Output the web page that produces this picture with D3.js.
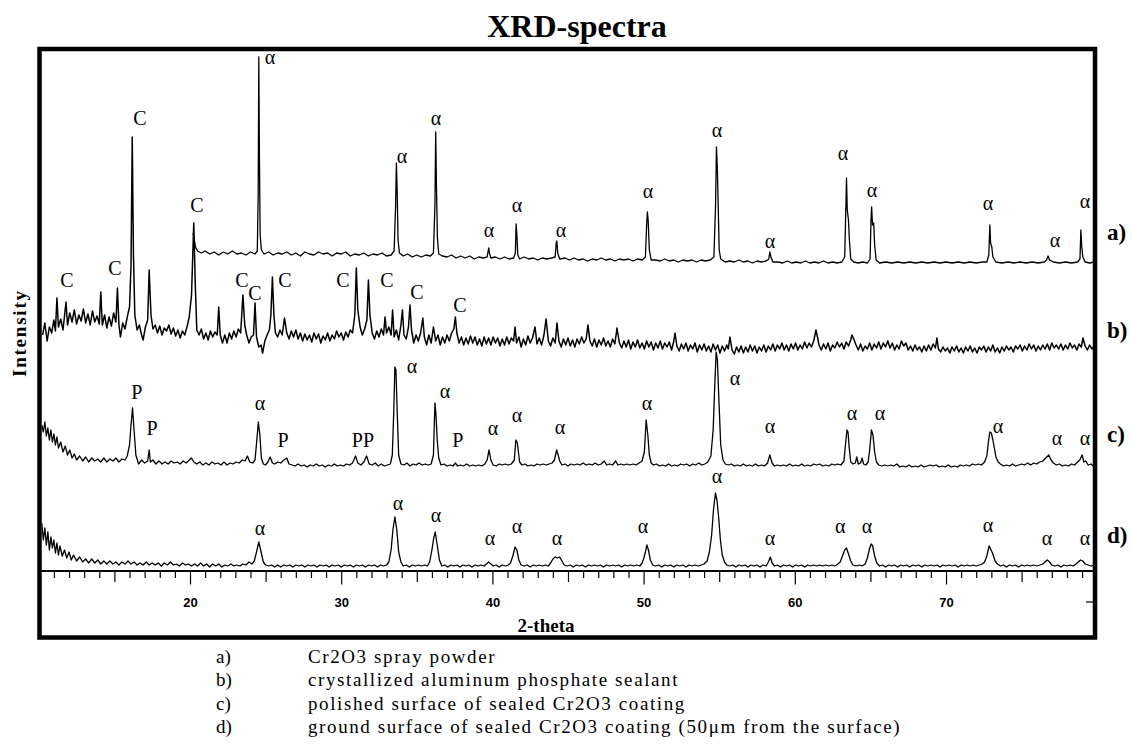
<!DOCTYPE html>
<html>
<head>
<meta charset="utf-8">
<script src="https://cdn.jsdelivr.net/npm/d3@7"></script>
<style>
  body { margin: 0; background: #fff; }
  svg { display: block; }
  .serif { font-family: "Liberation Serif", "Times New Roman", serif; fill: #000; }
  .peak-label { font-size: 20px; }
  .tick text { font-family: "Liberation Sans", Arial, sans-serif; font-weight: bold; font-size: 13px; fill: #000; }
  .axis path, .axis line { stroke: #000; }
</style>
</head>
<body>
<div id="chart-area"></div>
<script>
// ---- data: [2-theta, intensity], each trace on its own baseline ----
const traceA = [
  [20.2,32],[20.28,26],[20.36,18],[20.5,14],[20.75,12],[21.0,14],[21.3,11],[21.6,13],[21.9,10],[22.2,13],[22.5,11],[22.8,14],
  [23.1,11],[23.4,12],[23.7,10],[24.0,13],[24.3,11],[24.45,14],[24.51,70],[24.55,208],[24.59,110],[24.64,30],[24.72,15],[24.9,11],
  [25.2,13],[25.5,10],[25.8,12],[26.1,11],[26.4,13],[26.7,10],[27.0,12],[27.3,9],[27.6,13],[27.9,11],[28.2,10],[28.5,13],[28.8,11],
  [29.1,12],[29.4,9],[29.7,12],[30.0,11],[30.3,13],[30.6,9],[30.9,11],[31.2,10],[31.5,12],[31.8,9],[32.1,11],[32.4,10],[32.7,12],
  [33.0,9],[33.3,10],[33.5,14],[33.6,60],[33.65,102],[33.7,75],[33.76,25],[33.85,12],[34.1,9],[34.4,11],[34.7,8],[35.0,10],[35.3,8],
  [35.6,10],[35.9,9],[36.1,12],[36.2,60],[36.25,133],[36.3,80],[36.36,28],[36.45,11],[36.7,9],[37.0,8],[37.3,10],[37.6,7],[37.9,9],
  [38.2,7],[38.5,9],[38.8,6],[39.1,8],[39.4,7],[39.65,8],[39.72,14],[39.76,17],[39.8,12],[39.9,7],[40.2,8],[40.5,6],[40.8,8],
  [41.1,6],[41.4,7],[41.52,12],[41.57,41],[41.62,30],[41.68,10],[41.8,6],[42.1,8],[42.4,6],[42.7,7],[43.0,5],[43.3,7],[43.6,6],
  [43.9,7],[44.15,8],[44.22,22],[44.26,24],[44.32,12],[44.45,6],[44.8,7],[45.1,5],[45.4,7],[45.7,5],[46.0,6],[46.3,4],[46.6,6],
  [46.9,5],[47.2,7],[47.5,5],[47.8,6],[48.1,4],[48.4,6],[48.7,5],[49.0,6],[49.3,4],[49.6,6],[49.9,5],[50.12,8],[50.2,40],[50.25,53],
  [50.3,45],[50.38,15],[50.5,5],[50.8,5],[51.1,4],[51.4,6],[51.7,4],[52.0,5],[52.3,3],[52.6,5],[52.9,4],[53.2,5],[53.5,3],[53.8,5],
  [54.1,4],[54.4,5],[54.65,8],[54.76,60],[54.82,118],[54.88,95],[54.94,55],[55.0,15],[55.1,6],[55.4,3],[55.7,4],[56.0,3],[56.3,5],
  [56.6,3],[56.9,4],[57.2,2],[57.5,4],[57.8,3],[58.1,4],[58.28,6],[58.35,13],[58.42,8],[58.55,3],[58.9,3],[59.2,2],[59.5,4],[59.8,2],
  [60.1,3],[60.4,2],[60.7,4],[61.0,2],[61.3,3],[61.6,2],[61.9,4],[62.2,2],[62.5,3],[62.8,2],[63.1,3],[63.3,8],[63.38,60],[63.42,87],
  [63.47,55],[63.55,45],[63.61,25],[63.7,6],[63.9,3],[64.2,2],[64.5,3],[64.8,2],[64.98,6],[65.04,45],[65.08,58],[65.14,40],[65.22,42],
  [65.28,20],[65.38,5],[65.6,2],[66.0,3],[66.4,2],[66.8,3],[67.2,2],[67.6,3],[68.0,2],[68.4,3],[68.8,2],[69.2,3],[69.6,2],[70.0,3],
  [70.4,2],[70.8,3],[71.2,2],[71.6,3],[72.0,2],[72.4,3],[72.7,3],[72.83,10],[72.9,40],[72.95,22],[73.03,18],[73.1,8],[73.3,3],
  [73.7,2],[74.1,3],[74.5,2],[74.9,3],[75.3,2],[75.7,3],[76.1,2],[76.5,3],[76.65,5],[76.75,9],[76.85,5],[77.1,3],[77.5,2],[77.9,3],
  [78.3,2],[78.7,3],[78.86,6],[78.92,35],[78.98,18],[79.05,8],[79.2,3],[79.5,2],[79.8,3]
];

const traceB = [
  [10.25,20],[10.4,32],[10.55,14],[10.7,28],[10.85,22],[11.0,35],[11.1,24],[11.2,57],[11.3,28],[11.45,36],[11.6,25],[11.8,53],
  [11.9,30],[12.05,42],[12.2,33],[12.35,45],[12.5,31],[12.65,40],[12.8,34],[12.95,46],[13.1,32],[13.25,41],[13.4,30],[13.55,44],
  [13.7,33],[13.85,39],[14.0,31],[14.1,63],[14.2,30],[14.35,40],[14.5,27],[14.65,38],[14.8,29],[14.95,42],[15.1,33],[15.2,67],
  [15.3,30],[15.4,18],[15.55,32],[15.7,26],[15.85,38],[16.0,48],[16.1,90],[16.18,218],[16.26,100],[16.35,40],[16.5,25],[16.65,30],
  [16.8,20],[16.9,15],[17.05,28],[17.2,35],[17.3,85],[17.42,40],[17.55,26],[17.7,30],[17.85,22],[18.0,29],[18.15,20],[18.3,27],
  [18.45,24],[18.6,30],[18.75,21],[18.9,27],[19.05,19],[19.2,25],[19.35,17],[19.5,24],[19.65,20],[19.8,28],[19.95,38],[20.1,60],
  [20.25,132],[20.35,70],[20.45,25],[20.6,20],[20.75,26],[20.9,16],[21.05,22],[21.2,15],[21.35,24],[21.5,18],[21.65,23],[21.8,20],
  [21.9,48],[22.0,20],[22.15,12],[22.3,20],[22.45,12],[22.6,22],[22.75,16],[22.9,24],[23.05,18],[23.2,26],[23.35,22],[23.5,60],
  [23.62,30],[23.75,20],[23.9,12],[24.05,18],[24.2,20],[24.3,52],[24.4,18],[24.55,8],[24.7,10],[24.8,2],[24.95,14],[25.1,20],
  [25.25,25],[25.35,40],[25.45,78],[25.55,40],[25.65,22],[25.8,18],[25.95,25],[26.1,20],[26.25,37],[26.4,22],[26.55,16],[26.7,24],
  [26.85,18],[27.0,25],[27.15,16],[27.3,22],[27.45,14],[27.6,21],[27.75,15],[27.9,20],[28.05,13],[28.2,22],[28.35,16],[28.5,21],
  [28.65,12],[28.8,19],[28.95,15],[29.1,22],[29.25,14],[29.4,20],[29.55,16],[29.7,24],[29.85,18],[30.0,22],[30.15,15],[30.3,23],
  [30.45,18],[30.6,25],[30.75,22],[30.9,40],[31.0,87],[31.1,45],[31.25,28],[31.4,20],[31.55,26],[31.7,35],[31.8,75],[31.9,40],
  [32.05,22],[32.2,16],[32.35,24],[32.5,18],[32.65,26],[32.8,20],[32.9,38],[33.0,22],[33.15,28],[33.3,20],[33.4,45],[33.5,18],
  [33.65,25],[33.8,15],[33.95,30],[34.05,45],[34.15,20],[34.3,16],[34.45,28],[34.55,50],[34.65,25],[34.8,12],[34.95,20],[35.1,14],
  [35.25,22],[35.4,37],[35.5,18],[35.65,10],[35.8,20],[35.95,12],[36.1,28],[36.25,14],[36.4,20],[36.55,10],[36.7,18],[36.85,12],
  [37.0,20],[37.15,14],[37.3,22],[37.45,26],[37.55,38],[37.65,22],[37.8,12],[37.95,18],[38.1,10],[38.25,17],[38.4,11],[38.55,19],
  [38.7,12],[38.85,18],[39.0,10],[39.15,16],[39.3,9],[39.45,18],[39.6,11],[39.75,17],[39.9,10],[40.05,18],[40.2,12],[40.35,17],
  [40.5,9],[40.65,16],[40.8,10],[40.95,18],[41.1,11],[41.25,17],[41.4,14],[41.5,28],[41.6,12],[41.75,18],[41.9,8],[42.05,16],
  [42.2,10],[42.35,19],[42.5,12],[42.65,17],[42.82,28],[42.95,11],[43.1,17],[43.25,10],[43.4,19],[43.55,36],[43.7,14],[43.85,9],
  [44.0,17],[44.15,12],[44.27,32],[44.4,14],[44.55,8],[44.7,16],[44.85,10],[45.0,17],[45.15,9],[45.3,15],[45.45,8],[45.6,16],
  [45.75,11],[45.9,18],[46.05,12],[46.2,16],[46.32,30],[46.45,14],[46.6,9],[46.75,16],[46.9,8],[47.05,15],[47.2,10],[47.35,17],
  [47.5,9],[47.65,14],[47.8,8],[47.95,16],[48.1,11],[48.24,27],[48.4,12],[48.55,7],[48.7,14],[48.85,8],[49.0,15],[49.15,6],
  [49.3,13],[49.45,8],[49.6,15],[49.75,7],[49.9,12],[50.05,6],[50.2,14],[50.35,8],[50.5,13],[50.65,5],[50.8,12],[50.95,7],
  [51.1,14],[51.25,6],[51.4,12],[51.55,8],[51.7,13],[51.85,5],[52.0,14],[52.08,22],[52.2,9],[52.35,4],[52.5,11],[52.65,6],
  [52.8,12],[52.95,4],[53.1,10],[53.25,6],[53.4,12],[53.55,3],[53.7,10],[53.85,5],[54.0,11],[54.15,4],[54.3,9],[54.45,3],
  [54.6,11],[54.75,5],[54.9,10],[55.05,2],[55.2,9],[55.35,4],[55.5,10],[55.6,6],[55.71,18],[55.85,5],[56.0,1],[56.15,8],
  [56.3,3],[56.45,9],[56.6,2],[56.75,8],[56.9,3],[57.05,10],[57.2,4],[57.35,9],[57.5,2],[57.65,8],[57.8,4],[57.95,10],
  [58.1,3],[58.25,9],[58.4,5],[58.55,11],[58.7,4],[58.85,10],[59.0,6],[59.15,12],[59.3,5],[59.45,10],[59.6,4],[59.75,11],
  [59.9,6],[60.05,12],[60.2,5],[60.35,10],[60.5,6],[60.65,13],[60.8,7],[60.95,12],[61.1,8],[61.25,14],[61.4,25],[61.5,18],
  [61.6,10],[61.75,5],[61.9,11],[62.05,6],[62.2,12],[62.35,4],[62.5,10],[62.65,7],[62.8,13],[62.95,8],[63.1,12],[63.25,6],
  [63.4,13],[63.55,9],[63.7,15],[63.78,20],[63.9,16],[64.05,10],[64.2,5],[64.35,11],[64.5,4],[64.65,9],[64.8,6],[64.95,12],
  [65.1,5],[65.25,11],[65.4,7],[65.55,13],[65.7,6],[65.85,12],[66.0,8],[66.15,14],[66.3,7],[66.45,12],[66.6,5],[66.75,10],
  [66.9,6],[67.05,14],[67.2,9],[67.35,12],[67.5,5],[67.65,9],[67.8,4],[67.95,10],[68.1,5],[68.25,8],[68.4,3],[68.55,9],
  [68.7,4],[68.85,10],[69.0,5],[69.15,11],[69.3,7],[69.4,17],[69.5,6],[69.65,3],[69.8,8],[69.95,4],[70.1,7],[70.25,2],
  [70.4,8],[70.55,4],[70.7,9],[70.85,3],[71.0,7],[71.15,2],[71.3,8],[71.45,4],[71.6,9],[71.75,3],[71.9,7],[72.05,2],
  [72.2,8],[72.35,5],[72.5,9],[72.65,3],[72.8,8],[72.95,4],[73.1,10],[73.25,3],[73.4,7],[73.55,2],[73.7,8],[73.85,4],
  [74.0,9],[74.15,5],[74.3,8],[74.45,3],[74.6,9],[74.75,6],[74.9,10],[75.05,4],[75.2,9],[75.35,5],[75.5,11],[75.65,6],
  [75.8,10],[75.95,4],[76.1,9],[76.25,5],[76.4,10],[76.55,6],[76.7,11],[76.85,5],[77.0,12],[77.15,7],[77.3,10],[77.45,6],
  [77.6,11],[77.75,5],[77.9,10],[78.05,6],[78.2,12],[78.35,7],[78.5,10],[78.65,5],[78.8,11],[78.95,8],[79.06,17],[79.2,9],
  [79.35,5],[79.5,10],[79.65,6],[79.8,9]
];

const traceC = [
  [10.2,45],[10.3,38],[10.4,48],[10.5,34],[10.6,42],[10.7,30],[10.8,40],[10.9,28],[11.0,36],[11.1,25],[11.2,33],[11.3,22],
  [11.45,28],[11.6,18],[11.75,24],[11.9,15],[12.05,20],[12.2,12],[12.35,16],[12.5,10],[12.7,14],[12.9,9],[13.1,13],[13.3,8],
  [13.5,12],[13.7,9],[13.9,11],[14.1,8],[14.3,12],[14.5,8],[14.7,11],[14.9,9],[15.1,12],[15.3,8],[15.5,11],[15.7,10],[15.85,14],
  [16.0,25],[16.1,45],[16.2,62],[16.3,40],[16.42,15],[16.6,6],[16.8,10],[17.0,7],[17.2,9],[17.3,20],[17.38,8],[17.55,10],
  [17.75,6],[17.95,9],[18.15,6],[18.35,8],[18.55,6],[18.75,9],[18.95,7],[19.15,8],[19.35,6],[19.55,9],[19.75,7],[19.95,10],
  [20.1,12],[20.25,8],[20.45,6],[20.65,8],[20.85,5],[21.05,7],[21.25,5],[21.45,8],[21.65,6],[21.85,7],[22.05,5],[22.25,8],
  [22.45,5],[22.65,7],[22.85,6],[23.05,8],[23.25,7],[23.45,10],[23.65,9],[23.8,14],[23.95,8],[24.15,7],[24.3,10],[24.42,30],
  [24.52,48],[24.62,35],[24.72,12],[24.85,6],[25.0,5],[25.15,8],[25.3,13],[25.45,7],[25.6,6],[25.8,8],[26.0,7],[26.2,10],
  [26.4,12],[26.55,6],[26.75,5],[26.95,4],[27.15,6],[27.35,4],[27.55,5],[27.75,3],[27.95,5],[28.15,4],[28.35,6],[28.55,4],
  [28.75,5],[28.95,3],[29.15,5],[29.35,4],[29.55,6],[29.75,4],[29.95,5],[30.15,4],[30.35,6],[30.55,5],[30.75,7],[30.95,14],
  [31.1,7],[31.3,5],[31.5,8],[31.68,14],[31.85,6],[32.05,5],[32.25,7],[32.45,4],[32.65,6],[32.85,4],[33.05,5],[33.25,6],
  [33.38,15],[33.48,60],[33.55,103],[33.62,100],[33.7,60],[33.8,15],[33.95,6],[34.15,5],[34.35,7],[34.55,4],[34.75,6],[34.95,5],
  [35.15,7],[35.35,5],[35.55,6],[35.75,5],[35.95,6],[36.1,15],[36.2,67],[36.27,55],[36.35,30],[36.45,12],[36.6,5],[36.8,6],
  [37.0,4],[37.2,5],[37.4,4],[37.55,7],[37.7,4],[37.9,5],[38.1,4],[38.3,6],[38.5,4],[38.7,5],[38.9,4],[39.1,5],[39.3,4],
  [39.5,6],[39.65,10],[39.78,20],[39.9,10],[40.05,5],[40.25,4],[40.45,6],[40.65,5],[40.85,6],[41.05,5],[41.25,6],[41.45,10],
  [41.55,30],[41.65,27],[41.72,18],[41.8,8],[41.95,5],[42.15,6],[42.35,4],[42.55,5],[42.75,4],[42.95,6],[43.15,5],[43.35,6],
  [43.55,5],[43.75,6],[43.95,7],[44.1,10],[44.25,20],[44.35,15],[44.45,9],[44.6,5],[44.8,6],[45.0,4],[45.2,6],[45.4,5],
  [45.6,6],[45.8,5],[46.0,7],[46.2,5],[46.4,6],[46.6,5],[46.8,7],[47.0,5],[47.2,6],[47.4,9],[47.55,5],[47.75,6],[47.95,5],
  [48.15,9],[48.3,5],[48.5,6],[48.7,5],[48.9,6],[49.1,5],[49.3,6],[49.5,5],[49.7,7],[49.9,9],[50.05,18],[50.17,50],[50.28,35],
  [50.38,15],[50.5,7],[50.65,5],[50.85,6],[51.05,4],[51.25,5],[51.45,4],[51.65,6],[51.85,4],[52.05,5],[52.25,4],[52.45,6],
  [52.65,5],[52.85,6],[53.05,4],[53.25,6],[53.45,5],[53.65,7],[53.85,5],[54.05,6],[54.25,8],[54.45,14],[54.6,40],[54.72,90],
  [54.8,118],[54.88,110],[54.98,70],[55.1,25],[55.25,10],[55.4,6],[55.6,5],[55.8,6],[56.0,4],[56.2,5],[56.4,4],[56.6,6],
  [56.8,4],[57.0,5],[57.2,4],[57.4,6],[57.6,4],[57.8,5],[58.0,4],[58.2,7],[58.35,15],[58.5,7],[58.65,4],[58.85,5],[59.05,4],
  [59.25,5],[59.45,4],[59.65,6],[59.85,4],[60.05,5],[60.25,4],[60.45,6],[60.65,4],[60.85,5],[61.05,4],[61.25,6],[61.45,5],
  [61.65,6],[61.85,4],[62.05,5],[62.25,4],[62.45,6],[62.65,5],[62.85,6],[63.05,5],[63.25,9],[63.35,25],[63.45,40],[63.52,38],
  [63.6,22],[63.7,8],[63.85,6],[64.0,7],[64.1,13],[64.2,6],[64.35,7],[64.45,12],[64.55,6],[64.7,5],[64.85,8],[64.95,20],
  [65.07,40],[65.17,35],[65.28,18],[65.4,8],[65.55,5],[65.75,4],[65.95,5],[66.15,4],[66.35,5],[66.55,4],[66.75,6],[66.95,3],
  [67.15,4],[67.35,3],[67.55,5],[67.75,3],[67.95,4],[68.15,3],[68.35,5],[68.55,3],[68.75,4],[68.95,5],[69.15,4],[69.35,5],
  [69.55,3],[69.75,4],[69.95,3],[70.15,5],[70.35,3],[70.55,4],[70.75,3],[70.95,5],[71.15,4],[71.35,5],[71.55,4],[71.75,6],
  [71.95,5],[72.15,6],[72.35,5],[72.55,8],[72.7,14],[72.82,30],[72.9,38],[73.0,37],[73.1,30],[73.2,22],[73.3,13],[73.45,8],
  [73.6,6],[73.8,4],[74.0,5],[74.2,4],[74.4,6],[74.6,4],[74.8,5],[75.0,6],[75.2,5],[75.4,7],[75.6,5],[75.8,7],[76.0,6],
  [76.2,8],[76.4,9],[76.6,12],[76.8,15],[76.95,10],[77.1,7],[77.3,5],[77.5,6],[77.7,4],[77.9,5],[78.1,4],[78.3,6],[78.5,5],
  [78.7,8],[78.85,10],[79.0,15],[79.12,8],[79.25,9],[79.4,5],[79.6,6],[79.8,3]
];

const traceD = [
  [10.2,47],[10.3,30],[10.4,42],[10.5,25],[10.6,38],[10.7,20],[10.8,33],[10.9,22],[11.0,30],[11.1,17],[11.2,27],[11.3,15],
  [11.4,24],[11.55,14],[11.7,20],[11.85,12],[12.0,18],[12.15,10],[12.3,15],[12.5,9],[12.7,13],[12.9,8],[13.1,11],[13.3,7],
  [13.5,11],[13.7,7],[13.9,10],[14.1,6],[14.3,9],[14.5,6],[14.7,9],[14.9,6],[15.1,8],[15.3,5],[15.5,8],[15.7,6],[15.9,9],
  [16.1,6],[16.3,8],[16.5,5],[16.7,7],[16.9,5],[17.1,8],[17.3,5],[17.5,7],[17.7,5],[17.9,7],[18.1,4],[18.3,7],[18.5,5],
  [18.7,8],[18.9,5],[19.1,6],[19.3,4],[19.5,7],[19.7,5],[19.9,6],[20.1,4],[20.3,6],[20.5,4],[20.7,7],[20.9,4],[21.1,6],
  [21.3,3],[21.5,6],[21.7,4],[21.9,6],[22.1,3],[22.3,5],[22.5,4],[22.7,6],[22.9,4],[23.1,5],[23.3,4],[23.5,6],[23.7,5],
  [23.9,8],[24.1,6],[24.25,9],[24.4,18],[24.55,28],[24.7,18],[24.85,8],[25.0,5],[25.2,4],[25.4,5],[25.6,3],[25.8,5],[26.0,3],
  [26.2,5],[26.4,4],[26.6,5],[26.8,3],[27.0,5],[27.2,4],[27.4,5],[27.6,3],[27.8,5],[28.0,4],[28.2,5],[28.4,3],[28.6,5],
  [28.8,4],[29.0,5],[29.2,3],[29.4,5],[29.6,4],[29.8,5],[30.0,3],[30.2,5],[30.4,4],[30.6,5],[30.8,3],[31.0,5],[31.2,4],
  [31.4,5],[31.6,3],[31.8,5],[32.0,4],[32.2,5],[32.4,3],[32.6,5],[32.8,4],[33.0,5],[33.15,8],[33.3,20],[33.42,40],[33.55,53],
  [33.68,40],[33.8,18],[33.95,8],[34.1,4],[34.3,5],[34.5,3],[34.7,5],[34.9,4],[35.1,5],[35.3,4],[35.5,5],[35.7,4],[35.85,8],
  [36.0,20],[36.12,32],[36.22,38],[36.35,25],[36.5,10],[36.65,4],[36.85,5],[37.05,3],[37.25,5],[37.45,4],[37.65,5],[37.85,3],
  [38.05,5],[38.25,4],[38.45,5],[38.65,3],[38.85,5],[39.05,4],[39.25,5],[39.45,4],[39.6,6],[39.75,8],[39.9,6],[40.05,4],
  [40.25,5],[40.45,3],[40.65,5],[40.85,4],[41.05,5],[41.2,7],[41.35,14],[41.5,23],[41.62,20],[41.75,10],[41.9,5],[42.1,4],
  [42.3,5],[42.5,3],[42.7,5],[42.9,4],[43.1,5],[43.3,4],[43.5,5],[43.7,4],[43.85,7],[44.0,11],[44.15,13],[44.3,12],[44.45,13],
  [44.6,9],[44.75,5],[44.95,4],[45.15,5],[45.35,3],[45.55,5],[45.75,4],[45.95,5],[46.15,3],[46.35,5],[46.55,4],[46.75,5],
  [46.95,4],[47.15,5],[47.35,3],[47.55,5],[47.75,4],[47.95,5],[48.15,4],[48.35,5],[48.55,3],[48.75,5],[48.95,4],[49.15,5],
  [49.35,4],[49.55,5],[49.75,4],[49.9,7],[50.02,12],[50.12,18],[50.22,25],[50.32,20],[50.45,10],[50.6,5],[50.8,4],[51.0,5],
  [51.2,3],[51.4,5],[51.6,4],[51.8,5],[52.0,3],[52.2,5],[52.4,4],[52.6,5],[52.8,3],[53.0,5],[53.2,4],[53.4,5],[53.6,4],
  [53.8,5],[54.0,6],[54.2,9],[54.35,18],[54.5,35],[54.62,60],[54.75,77],[54.85,70],[54.95,55],[55.08,30],[55.2,15],[55.35,8],
  [55.5,5],[55.7,4],[55.9,5],[56.1,3],[56.3,5],[56.5,4],[56.7,5],[56.9,3],[57.1,5],[57.3,4],[57.5,5],[57.7,3],[57.9,5],
  [58.1,4],[58.25,8],[58.38,13],[58.5,7],[58.65,4],[58.85,5],[59.05,3],[59.25,5],[59.45,4],[59.65,5],[59.85,3],[60.05,5],
  [60.25,4],[60.45,5],[60.65,3],[60.85,5],[61.05,4],[61.25,5],[61.45,4],[61.65,5],[61.85,4],[62.05,5],[62.25,4],[62.45,5],
  [62.65,4],[62.85,6],[63.0,8],[63.15,14],[63.3,20],[63.42,22],[63.55,16],[63.7,9],[63.85,5],[64.05,4],[64.25,5],[64.45,4],
  [64.65,6],[64.8,12],[64.95,22],[65.05,26],[65.15,24],[65.28,14],[65.42,7],[65.6,4],[65.8,5],[66.0,3],[66.2,5],[66.4,4],
  [66.6,5],[66.8,3],[67.0,5],[67.2,4],[67.4,5],[67.6,3],[67.8,5],[68.0,4],[68.2,5],[68.4,3],[68.6,5],[68.8,4],[69.0,5],
  [69.2,4],[69.4,5],[69.6,3],[69.8,5],[70.0,4],[70.2,5],[70.4,4],[70.6,5],[70.8,3],[71.0,5],[71.2,4],[71.4,5],[71.6,4],
  [71.8,5],[72.0,4],[72.2,5],[72.4,6],[72.55,8],[72.7,14],[72.85,24],[72.98,20],[73.1,16],[73.25,9],[73.4,6],[73.6,4],
  [73.8,5],[74.0,3],[74.2,5],[74.4,4],[74.6,5],[74.8,3],[75.0,5],[75.2,4],[75.4,5],[75.6,4],[75.8,5],[76.0,4],[76.2,5],
  [76.4,6],[76.55,8],[76.7,10],[76.85,8],[77.0,5],[77.2,4],[77.4,5],[77.6,3],[77.8,5],[78.0,4],[78.2,5],[78.4,4],[78.6,6],
  [78.75,8],[78.9,10],[79.05,9],[79.2,6],[79.4,5],[79.6,4],[79.8,5]
];

// peak annotations: [2-theta, height above the trace baseline, text]
const labelsA = [
  [25.29,201,"α"],[34.02,102,"α"],[36.27,140,"α"],[39.78,28,"α"],[41.63,53,"α"],[44.54,28,"α"],[50.29,67,"α"],
  [54.85,128,"α"],[58.36,17,"α"],[63.19,105,"α"],[65.11,68,"α"],[72.78,55,"α"],[77.21,18,"α"],[79.19,57,"α"]
];
const labelsB = [
  [11.86,68,"C"],[15.04,80,"C"],[16.69,230,"C"],[20.46,143,"C"],[23.44,68,"C"],[24.30,55,"C"],[26.28,68,"C"],
  [30.12,68,"C"],[33.03,68,"C"],[35.01,56,"C"],[37.86,43,"C"]
];
const labelsC = [
  [16.49,71,"P"],[17.49,35,"P"],[24.63,60,"α"],[26.15,23,"P"],[31.44,23,"PP"],[34.68,97,"α"],[36.87,72,"α"],
  [37.72,23,"P"],[40.04,35,"α"],[41.63,48,"α"],[44.47,36,"α"],[50.22,60,"α"],[56.04,85,"α"],[58.36,37,"α"],
  [63.78,50,"α"],[65.63,50,"α"],[73.44,37,"α"],[77.34,25,"α"],[79.19,25,"α"]
];
const labelsD = [
  [24.63,35,"α"],[33.76,60,"α"],[36.27,48,"α"],[39.84,25,"α"],[41.63,37,"α"],[44.27,25,"α"],[49.96,37,"α"],
  [54.85,87,"α"],[58.36,25,"α"],[63.0,37,"α"],[64.77,37,"α"],[72.78,38,"α"],[76.68,25,"α"],[79.19,25,"α"]
];

const traceNames = ["a)", "b)", "c)", "d)"];
const traceNameLevels = [25, 17, 28, 27];
const legendLines = [
  "Cr2O3 spray powder",
  "crystallized aluminum phosphate sealant",
  "polished surface of sealed Cr2O3 coating",
  "ground surface of sealed Cr2O3 coating (50μm from the surface)"
];
const xTickLabels = [20, 30, 40, 50, 60, 70];

const xrd = {
  totalWidth: 1132,
  totalHeight: 746,
  frame: { left: 39.5, top: 49, right: 1095, bottom: 637.5 },
  axisY: 571,
  traceOffsets: [305, 215, 100, 0],
  svg: undefined,

  setup: function() {
    this.svg = d3.select("#chart-area")
      .append("svg")
        .attr("width", this.totalWidth)
        .attr("height", this.totalHeight);

    this.xScale = d3.scaleLinear().domain([10, 80]).range([38.8, 1097.2]);
    this.yScale = d3.scaleLinear().domain([0, 520]).range([570, 50]);

    this.svg.append("clipPath")
        .attr("id", "plot-clip")
      .append("rect")
        .attr("x", this.frame.left + 2)
        .attr("y", this.frame.top + 2)
        .attr("width", this.frame.right - this.frame.left - 4)
        .attr("height", this.frame.bottom - this.frame.top - 4);
  },

  drawFrame: function() {
    const f = this.frame;
    this.svg.append("rect")
      .attr("x", f.left).attr("y", f.top)
      .attr("width", f.right - f.left).attr("height", f.bottom - f.top)
      .attr("fill", "none")
      .attr("stroke", "#000")
      .attr("stroke-width", 4.5);

    // title
    this.svg.append("text")
      .attr("class", "serif")
      .attr("x", 577).attr("y", 37)
      .attr("text-anchor", "middle")
      .attr("font-size", "32px")
      .attr("font-weight", "bold")
      .text("XRD-spectra");

    // y label
    this.svg.append("text")
      .attr("class", "serif")
      .attr("transform", "translate(26,334) rotate(-90)")
      .attr("text-anchor", "middle")
      .attr("font-size", "19px")
      .attr("font-weight", "bold")
      .attr("textLength", 86)
      .attr("lengthAdjust", "spacing")
      .text("Intensity");

    // x label
    this.svg.append("text")
      .attr("class", "serif")
      .attr("x", 546).attr("y", 632)
      .attr("text-anchor", "middle")
      .attr("font-size", "19px")
      .attr("font-weight", "bold")
      .text("2-theta");

    // small mark on the right border
    this.svg.append("line")
      .attr("x1", 1086).attr("x2", 1097)
      .attr("y1", 602).attr("y2", 602)
      .attr("stroke", "#000").attr("stroke-width", 1.2);
  },

  drawAxis: function() {
    const minor = d3.range(11, 80).filter(d => d % 5 !== 0);
    const mid = d3.range(15, 80, 10);
    const g = this.svg.append("g")
      .attr("class", "axis")
      .attr("transform", "translate(0," + this.axisY + ")");

    g.append("g").call(d3.axisBottom(this.xScale).tickValues(minor).tickSize(7).tickSizeOuter(0).tickFormat(""));
    g.append("g").call(d3.axisBottom(this.xScale).tickValues(mid).tickSize(11).tickSizeOuter(0).tickFormat(""));
    g.append("g").call(d3.axisBottom(this.xScale).tickValues(xTickLabels).tickSize(13.5).tickSizeOuter(0)
      .tickPadding(13).tickFormat(d3.format("d")));

    g.selectAll("path.domain")
      .attr("d", "M" + (this.frame.left + 2) + ",0H" + (this.frame.right - 2))
      .attr("stroke-width", 1.5);
    g.selectAll(".tick line").attr("stroke-width", 1.2);
  },

  drawTraces: function() {
    const traces = [traceA, traceB, traceC, traceD];
    const plot = this.svg.append("g").attr("clip-path", "url(#plot-clip)");

    traces.forEach((trace, i) => {
      const off = this.traceOffsets[i];
      const line = d3.line()
        .x(d => this.xScale(d[0]))
        .y(d => this.yScale(off + d[1]));
      plot.append("path")
        .datum(trace)
        .attr("fill", "none")
        .attr("stroke", "#000")
        .attr("stroke-width", i === 1 ? 1.5 : 1.3)
        .attr("stroke-linejoin", "round")
        .attr("d", line);
    });
  },

  drawLabels: function() {
    const sets = [labelsA, labelsB, labelsC, labelsD];
    sets.forEach((set, i) => {
      const off = this.traceOffsets[i];
      this.svg.append("g")
        .selectAll("text")
        .data(set)
        .join("text")
          .attr("class", "serif peak-label")
          .attr("x", d => this.xScale(d[0]))
          .attr("y", d => this.yScale(off + d[1]))
          .attr("text-anchor", "middle")
          .text(d => d[2]);

      this.svg.append("text")
        .attr("class", "serif")
        .attr("x", 1107)
        .attr("y", this.yScale(off + traceNameLevels[i]))
        .attr("font-size", "23px")
        .attr("font-weight", "bold")
        .text(traceNames[i]);
    });
  },

  drawLegend: function() {
    const legend = this.svg.append("g");
    legendLines.forEach((line, i) => {
      const row = legend.append("g")
        .attr("transform", "translate(0," + (663 + i * 23.4) + ")");
      row.append("text")
        .attr("class", "serif")
        .attr("x", 216)
        .attr("font-size", "19px")
        .text(traceNames[i]);
      row.append("text")
        .attr("class", "serif")
        .attr("x", 308)
        .attr("font-size", "19px")
        .style("letter-spacing", "1.6px")
        .text(line);
    });
  },

  start: function() {
    this.setup();
    this.drawTraces();
    this.drawAxis();
    this.drawFrame();
    this.drawLabels();
    this.drawLegend();
  }
};

xrd.start();
</script>
</body>
</html>
